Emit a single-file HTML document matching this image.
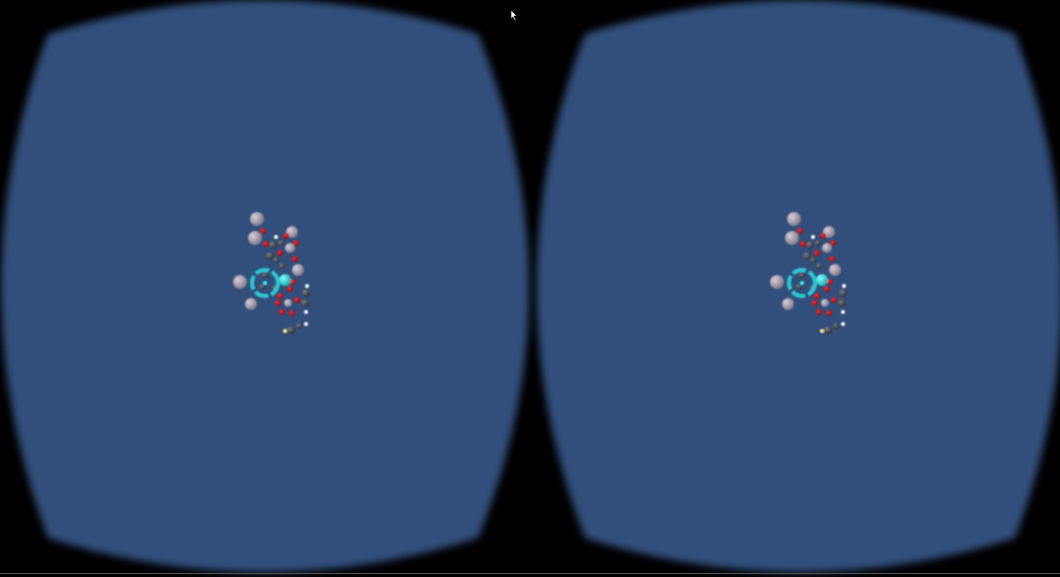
<!DOCTYPE html>
<html><head><meta charset="utf-8"><style>
html,body{margin:0;padding:0;background:#000;width:1060px;height:577px;overflow:hidden}
svg{display:block}
</style></head><body>
<svg width="1060" height="577" viewBox="0 0 1060 577">
<defs>
<filter id="blur" x="-10%" y="-10%" width="120%" height="120%"><feGaussianBlur stdDeviation="4"/></filter>
<filter id="sblur" x="-20%" y="-20%" width="140%" height="140%"><feGaussianBlur stdDeviation="0.7"/></filter>
<radialGradient id="gGrey" cx="35%" cy="35%" r="70%"><stop offset="0" stop-color="#d8cfd8"/><stop offset="1" stop-color="#7a7488"/></radialGradient>
<radialGradient id="gRed" cx="35%" cy="35%" r="70%"><stop offset="0" stop-color="#ff3030"/><stop offset="1" stop-color="#8a0a10"/></radialGradient>
<radialGradient id="gDark" cx="35%" cy="35%" r="70%"><stop offset="0" stop-color="#7a7e84"/><stop offset="1" stop-color="#2a2d33"/></radialGradient>
<radialGradient id="gCyan" cx="35%" cy="35%" r="70%"><stop offset="0" stop-color="#8ff"/><stop offset="1" stop-color="#1aa"/></radialGradient>
<g id="mol" filter="url(#sblur)">
<circle cx="257" cy="219" r="7" fill="url(#gGrey)"/>
<circle cx="255" cy="238" r="7" fill="url(#gGrey)"/>
<circle cx="292" cy="232" r="6" fill="url(#gGrey)"/>
<circle cx="290" cy="248" r="5" fill="url(#gGrey)"/>
<circle cx="298" cy="270" r="6" fill="url(#gGrey)"/>
<circle cx="240" cy="282" r="7" fill="url(#gGrey)"/>
<circle cx="251" cy="304" r="6" fill="url(#gGrey)"/>
<circle cx="263" cy="231" r="3" fill="url(#gRed)"/>
<circle cx="286" cy="236" r="3" fill="url(#gRed)"/>
<circle cx="266" cy="244" r="3" fill="url(#gRed)"/>
<circle cx="296" cy="243" r="3" fill="url(#gRed)"/>
<circle cx="280" cy="253" r="3" fill="url(#gRed)"/>
<circle cx="295" cy="259" r="3" fill="url(#gRed)"/>
<circle cx="273" cy="245" r="4" fill="url(#gDark)"/>
<circle cx="281" cy="243" r="3" fill="url(#gDark)"/>
<circle cx="270" cy="256" r="4" fill="url(#gDark)"/>
<circle cx="276" cy="260" r="3" fill="url(#gDark)"/>
<circle cx="282" cy="266" r="3" fill="url(#gDark)"/>
<circle cx="265" cy="275" r="3" fill="url(#gDark)"/>
<circle cx="262" cy="287" r="3" fill="url(#gDark)"/>
<circle cx="275" cy="288" r="3" fill="url(#gDark)"/>
<circle cx="293" cy="282" r="3" fill="url(#gRed)"/>
<circle cx="290" cy="289" r="3" fill="url(#gRed)"/>
<circle cx="280" cy="296" r="3" fill="url(#gRed)"/>
<circle cx="297" cy="300" r="3" fill="url(#gRed)"/>
<circle cx="278" cy="303" r="3" fill="url(#gRed)"/>
<circle cx="282" cy="312" r="3" fill="url(#gRed)"/>
<circle cx="292" cy="313" r="3" fill="url(#gRed)"/>
<circle cx="288" cy="303" r="4" fill="url(#gGrey)"/>
<circle cx="306" cy="293" r="4" fill="url(#gDark)"/>
<circle cx="305" cy="303" r="4" fill="url(#gDark)"/>
<circle cx="291" cy="330" r="4" fill="url(#gDark)"/>
<circle cx="299" cy="326" r="3" fill="url(#gDark)"/>
<circle cx="276" cy="237" r="2" fill="#eee"/>
<circle cx="307" cy="286" r="2" fill="#eee"/>
<circle cx="306" cy="312" r="2" fill="#eee"/>
<circle cx="306" cy="324" r="2" fill="#eee"/>
<circle cx="285" cy="331" r="2" fill="#ee8"/>
<circle cx="285" cy="280" r="6" fill="url(#gCyan)"/>
<circle cx="265" cy="283" r="13" fill="none" stroke="#2bc7d0" stroke-width="4" stroke-dasharray="14 3"/>
<circle cx="265" cy="283" r="2" fill="#3ee"/>
</g>
</defs>
<rect width="1060" height="577" fill="#000"/>
<path filter="url(#blur)" fill="#33507c"
 d="M48,34 Q264,-34 478,34 Q580,288 478,538 Q264,606 48,538 Q-46,288 48,34 Z"/>
<path filter="url(#blur)" fill="#33507c"
 d="M585,34 Q801,-34 1015,34 Q1110,288 1015,538 Q801,606 585,538 Q488,288 585,34 Z"/>
<use href="#mol"/>
<use href="#mol" x="537"/>
<rect x="0" y="573" width="1060" height="1" fill="#555"/>
<path d="M511,10 L511,19 L513,17 L515,21 L516,20 L514,16 L517,16 Z" fill="#fff" stroke="#000" stroke-width="0.6"/>
</svg>
</body></html>
